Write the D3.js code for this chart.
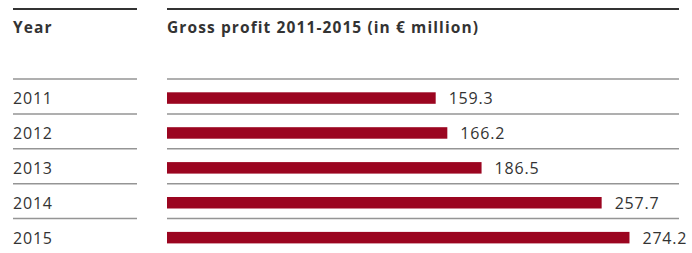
<!DOCTYPE html>
<html>
  <head>
    <meta charset="utf-8">
    <title>Gross profit 2011-2015</title>
    <script src="https://cdnjs.cloudflare.com/ajax/libs/d3/7.8.5/d3.min.js"></script>
    <style>
      body { margin: 0; background: #fff; }
      text { font-family: "Open Sans", sans-serif; fill: #333; }
    </style>
  </head>
  <body>
    <script>

      var years  = ["2011", "2012", "2013", "2014", "2015"];
      var profit = [159.3, 166.2, 186.5, 257.7, 274.2];
      var yearHeader  = "Year";
      var chartHeader = "Gross profit 2011-2015 (in € million)";

      var width = 692, height = 253;

      // two columns: year column on the left, bars on the right
      var col1 = { x0: 13, x1: 137 };
      var col2 = { x0: 167, x1: 679 };

      var svg = d3.select("body").append("svg")
        .attr("width", width)
        .attr("height", height);

      var xScale = d3.scaleLinear().domain([0, 300]).range([col2.x0, col2.x0 + 506]);
      var yScale = d3.scaleBand().domain(years).range([79, 79 + 5 * 34.9]);

      var rows = years.map(function (y, i) { return { year: y, value: profit[i] }; });

      // thick header rules
      [col1, col2].forEach(function (c) {
        svg.append("line")
          .attr("x1", c.x0).attr("x2", c.x1)
          .attr("y1", 9).attr("y2", 9)
          .attr("stroke", "#333").attr("stroke-width", 2);
      });

      svg.append("text")
        .attr("x", col1.x0).attr("y", 33.3)
        .style("font-weight", 700).style("font-size", "15.5px").style("letter-spacing", "1.1px")
        .text(yearHeader);
      svg.append("text")
        .attr("x", col2.x0).attr("y", 33.3)
        .style("font-weight", 700).style("font-size", "15.5px").style("letter-spacing", "1.1px")
        .text(chartHeader);

      // thin row separators
      [col1, col2].forEach(function (c) {
        svg.selectAll(null).data(rows).enter().append("line")
          .attr("x1", c.x0).attr("x2", c.x1)
          .attr("y1", function (d) { return yScale(d.year); })
          .attr("y2", function (d) { return yScale(d.year); })
          .attr("stroke", "#959595").attr("stroke-width", 1.5);
      });

      svg.selectAll(".year").data(rows).enter().append("text")
        .attr("class", "year")
        .attr("x", col1.x0)
        .attr("y", function (d) { return yScale(d.year) + 25; })
        .style("font-size", "16px").style("letter-spacing", "0.8px")
        .text(function (d) { return d.year; });

      svg.selectAll(".bar").data(rows).enter().append("rect")
        .attr("class", "bar")
        .attr("x", xScale(0))
        .attr("y", function (d) { return yScale(d.year) + 13.3; })
        .attr("width", function (d) { return xScale(d.value) - xScale(0); })
        .attr("height", 11.5)
        .attr("fill", "#9b0520");

      svg.selectAll(".val").data(rows).enter().append("text")
        .attr("class", "val")
        .attr("x", function (d) { return xScale(d.value) + 13; })
        .attr("y", function (d) { return yScale(d.year) + 25; })
        .style("font-size", "16px").style("letter-spacing", "0.8px")
        .text(function (d) { return d.value.toFixed(1); });

    </script>
  </body>
</html>
